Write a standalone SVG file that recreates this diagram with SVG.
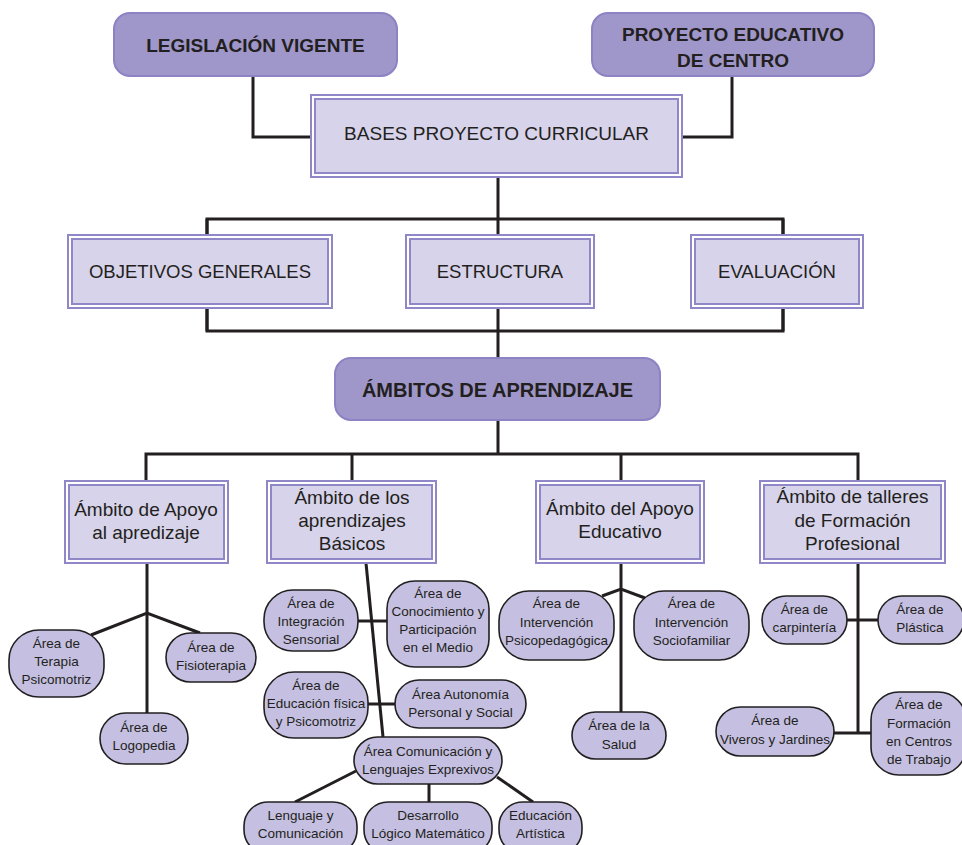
<svg xmlns="http://www.w3.org/2000/svg" width="962" height="845" viewBox="0 0 962 845">
<style>
.bg{fill:#ffffff}
.top{fill:#9f97c9;stroke:#8b83c3;stroke-width:2}
.dbo{fill:#ffffff;stroke:#8f87c7;stroke-width:2}
.dbi{fill:#d7d3ea;stroke:#8f87c7;stroke-width:2}
.pill{fill:#c5c0e1;stroke:#231f20;stroke-width:1.6}
.ln{fill:none;stroke:#231f20;stroke-width:3;stroke-linejoin:miter}
.tb{font-family:"Liberation Sans",Arial,sans-serif;font-weight:bold;fill:#231f20;text-anchor:middle}
.tm{font-family:"Liberation Sans",Arial,sans-serif;fill:#231f20;text-anchor:middle}
.ts{font-family:"Liberation Sans",Arial,sans-serif;fill:#231f20;text-anchor:middle;font-size:13.5px}
</style>
<rect class="bg" x="0" y="0" width="962" height="845"/>
<g id="connectors">
<polyline class="ln" points="253,76 253,137 311,137"/>
<polyline class="ln" points="732,76 732,137 682,137"/>
<line class="ln" x1="498" y1="177" x2="498" y2="454"/>
<polyline class="ln" points="207,238 207,219 783,219 783,238"/>
<polyline class="ln" points="207,308 207,331 783,331 783,308"/>
<line class="ln" x1="207" y1="219" x2="207" y2="331"/>
<line class="ln" x1="783" y1="219" x2="783" y2="331"/>
<polyline class="ln" points="146,481 146,454 858,454 858,481"/>
<line class="ln" x1="352" y1="454" x2="352" y2="481"/>
<line class="ln" x1="621" y1="454" x2="621" y2="481"/>
<!-- Apoyo al aprendizaje -->
<line class="ln" x1="147" y1="563" x2="147" y2="713"/>
<polyline class="ln" points="91,635 147,613 200,633"/>
<!-- Basicos -->
<line class="ln" x1="366" y1="563" x2="383" y2="737"/>
<line class="ln" x1="358" y1="621" x2="387" y2="621"/>
<line class="ln" x1="368" y1="704" x2="395" y2="704"/>
<line class="ln" x1="356" y1="771" x2="295" y2="802"/>
<line class="ln" x1="429" y1="784" x2="429" y2="802"/>
<line class="ln" x1="497" y1="777" x2="533" y2="802"/>
<!-- Apoyo Educativo -->
<line class="ln" x1="621" y1="563" x2="621" y2="712"/>
<polyline class="ln" points="602,596 621,589 645,598"/>
<!-- Talleres -->
<line class="ln" x1="858" y1="563" x2="858" y2="733"/>
<line class="ln" x1="847" y1="620" x2="878" y2="620"/>
<line class="ln" x1="834" y1="733" x2="871" y2="733"/>
</g>
<g id="n-legislacion">
<rect class="top" x="114" y="13" width="283" height="63" rx="16"/>
<text class="tb" x="255.5" y="52" font-size="19">LEGISLACIÓN VIGENTE</text>
</g>
<g id="n-proyecto">
<rect class="top" x="592" y="13" width="282" height="63" rx="16"/>
<text class="tb" x="733" y="41" font-size="19">PROYECTO EDUCATIVO</text>
<text class="tb" x="733" y="67" font-size="19">DE CENTRO</text>
</g>
<g id="n-bases">
<rect class="dbo" x="311" y="95" width="371" height="82"/>
<rect class="dbi" x="315" y="99" width="363" height="74"/>
<text class="tm" x="496.5" y="140" font-size="19">BASES PROYECTO CURRICULAR</text>
</g>
<g id="n-objetivos">
<rect class="dbo" x="68" y="235" width="264" height="73"/>
<rect class="dbi" x="72" y="239" width="256" height="65"/>
<text class="tm" x="200" y="278" font-size="18.5">OBJETIVOS GENERALES</text>
</g>
<g id="n-estructura">
<rect class="dbo" x="406" y="235" width="188" height="73"/>
<rect class="dbi" x="410" y="239" width="180" height="65"/>
<text class="tm" x="500" y="278" font-size="18.5">ESTRUCTURA</text>
</g>
<g id="n-evaluacion">
<rect class="dbo" x="691" y="235" width="172" height="73"/>
<rect class="dbi" x="695" y="239" width="164" height="65"/>
<text class="tm" x="777" y="278" font-size="18.5">EVALUACIÓN</text>
</g>
<g id="n-ambitos">
<rect class="top" x="335" y="358" width="325" height="62" rx="16"/>
<text class="tb" x="497.5" y="397" font-size="20">ÁMBITOS DE APRENDIZAJE</text>
</g>
<g id="n-apoyo-aprendizaje">
<rect class="dbo" x="65" y="481" width="163" height="82"/>
<rect class="dbi" x="69" y="485" width="155" height="74"/>
<text class="tm" x="146" y="516" font-size="19">Ámbito de Apoyo</text>
<text class="tm" x="146" y="539" font-size="19">al apredizaje</text>
</g>
<g id="n-basicos">
<rect class="dbo" x="267" y="481" width="169" height="82"/>
<rect class="dbi" x="271" y="485" width="161" height="74"/>
<text class="tm" x="352" y="504" font-size="19">Ámbito de los</text>
<text class="tm" x="352" y="527" font-size="19">aprendizajes</text>
<text class="tm" x="352" y="550" font-size="19">Básicos</text>
</g>
<g id="n-apoyo-educativo">
<rect class="dbo" x="536" y="481" width="168" height="82"/>
<rect class="dbi" x="540" y="485" width="160" height="74"/>
<text class="tm" x="620" y="515" font-size="19">Ámbito del Apoyo</text>
<text class="tm" x="620" y="538" font-size="19">Educativo</text>
</g>
<g id="n-talleres">
<rect class="dbo" x="760" y="481" width="185" height="82"/>
<rect class="dbi" x="764" y="485" width="177" height="74"/>
<text class="tm" x="852.5" y="503" font-size="19">Ámbito de talleres</text>
<text class="tm" x="852.5" y="527" font-size="19">de Formación</text>
<text class="tm" x="852.5" y="550" font-size="19">Profesional</text>
</g>
<g id="n-terapia">
<rect class="pill" x="9" y="630" width="95" height="67" rx="30"/>
<text class="ts" x="56.5" y="648">Área de</text>
<text class="ts" x="56.5" y="666">Terapia</text>
<text class="ts" x="56.5" y="684">Psicomotriz</text>
</g>
<g id="n-fisioterapia">
<rect class="pill" x="166" y="633" width="90" height="49" rx="24.5"/>
<text class="ts" x="211" y="652">Área de</text>
<text class="ts" x="211" y="670">Fisioterapia</text>
</g>
<g id="n-logopedia">
<rect class="pill" x="100" y="713" width="88" height="51" rx="25.5"/>
<text class="ts" x="144" y="732">Área de</text>
<text class="ts" x="144" y="750">Logopedia</text>
</g>
<g id="n-integracion">
<rect class="pill" x="264" y="590" width="94" height="61" rx="29"/>
<text class="ts" x="311" y="608">Área de</text>
<text class="ts" x="311" y="626">Integración</text>
<text class="ts" x="311" y="644">Sensorial</text>
</g>
<g id="n-conocimiento">
<rect class="pill" x="387" y="581" width="102" height="86" rx="28"/>
<text class="ts" x="438" y="598">Área de</text>
<text class="ts" x="438" y="616">Conocimiento y</text>
<text class="ts" x="438" y="634">Participación</text>
<text class="ts" x="438" y="652">en el Medio</text>
</g>
<g id="n-educacion-fisica">
<rect class="pill" x="264" y="672" width="104" height="66" rx="30"/>
<text class="ts" x="316" y="690">Área de</text>
<text class="ts" x="316" y="708">Educación física</text>
<text class="ts" x="316" y="726">y Psicomotriz</text>
</g>
<g id="n-autonomia">
<rect class="pill" x="395" y="680" width="131" height="48" rx="24"/>
<text class="ts" x="460.5" y="699">Área Autonomía</text>
<text class="ts" x="460.5" y="717">Personal y Social</text>
</g>
<g id="n-comunicacion">
<rect class="pill" x="354" y="737" width="148" height="47" rx="23.5"/>
<text class="ts" x="428" y="756">Área Comunicación y</text>
<text class="ts" x="428" y="774">Lenguajes Exprexivos</text>
</g>
<g id="n-lenguaje">
<rect class="pill" x="244" y="802" width="113" height="52" rx="24"/>
<text class="ts" x="300.5" y="820">Lenguaje y</text>
<text class="ts" x="300.5" y="838">Comunicación</text>
</g>
<g id="n-desarrollo">
<rect class="pill" x="364" y="802" width="128" height="52" rx="24"/>
<text class="ts" x="428" y="820">Desarrollo</text>
<text class="ts" x="428" y="838">Lógico Matemático</text>
</g>
<g id="n-artistica">
<rect class="pill" x="499" y="802" width="83" height="52" rx="24"/>
<text class="ts" x="540.5" y="820">Educación</text>
<text class="ts" x="540.5" y="838">Artística</text>
</g>
<g id="n-psicopedagogica">
<rect class="pill" x="499" y="591" width="115" height="69" rx="30"/>
<text class="ts" x="556.5" y="608">Área de</text>
<text class="ts" x="556.5" y="627">Intervención</text>
<text class="ts" x="556.5" y="645">Psicopedagógica</text>
</g>
<g id="n-sociofamiliar">
<rect class="pill" x="634" y="591" width="115" height="69" rx="30"/>
<text class="ts" x="691.5" y="608">Área de</text>
<text class="ts" x="691.5" y="627">Intervención</text>
<text class="ts" x="691.5" y="645">Sociofamiliar</text>
</g>
<g id="n-salud">
<rect class="pill" x="572" y="712" width="94" height="47" rx="23.5"/>
<text class="ts" x="619" y="730">Área de la</text>
<text class="ts" x="619" y="749">Salud</text>
</g>
<g id="n-carpinteria">
<rect class="pill" x="762" y="596" width="85" height="48" rx="24"/>
<text class="ts" x="804.5" y="614">Área de</text>
<text class="ts" x="804.5" y="632">carpintería</text>
</g>
<g id="n-plastica">
<rect class="pill" x="878" y="596" width="86" height="48" rx="24"/>
<text class="ts" x="920" y="614">Área de</text>
<text class="ts" x="920" y="632">Plástica</text>
</g>
<g id="n-viveros">
<rect class="pill" x="716" y="707" width="118" height="49" rx="24.5"/>
<text class="ts" x="775" y="725">Área de</text>
<text class="ts" x="775" y="744">Viveros y Jardines</text>
</g>
<g id="n-centros">
<rect class="pill" x="871" y="692" width="95" height="83" rx="28"/>
<text class="ts" x="919" y="709">Área de</text>
<text class="ts" x="919" y="728">Formación</text>
<text class="ts" x="919" y="746">en Centros</text>
<text class="ts" x="919" y="764">de Trabajo</text>
</g>
</svg>
